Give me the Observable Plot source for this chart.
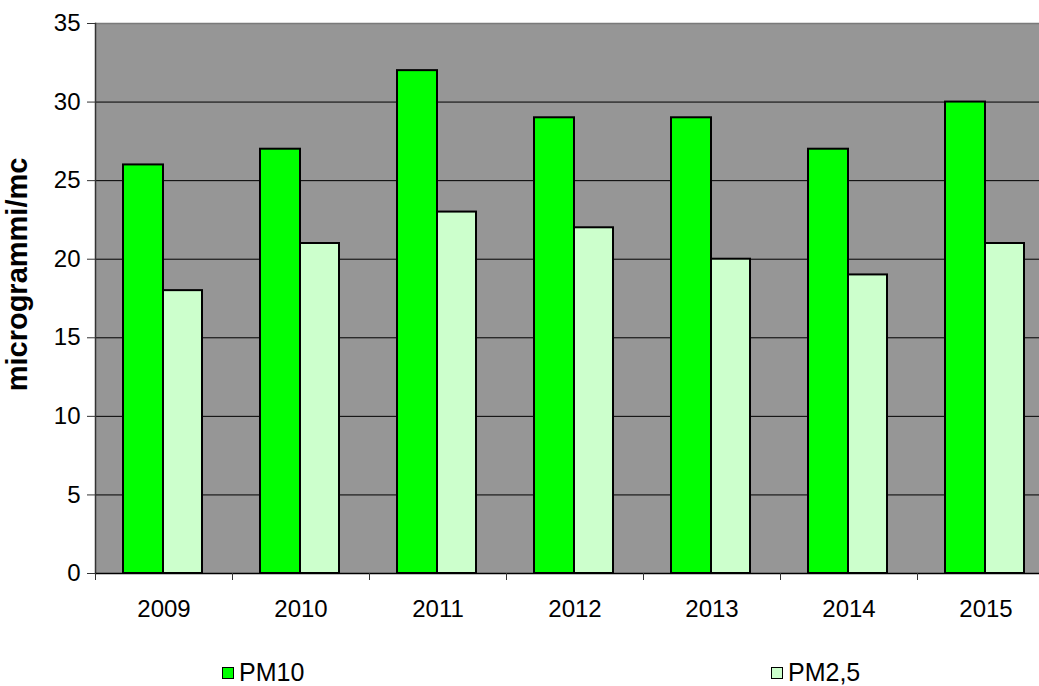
<!DOCTYPE html>
<html>
<head>
<meta charset="utf-8">
<script src="https://cdn.jsdelivr.net/npm/d3@7"></script>
<script src="https://cdn.jsdelivr.net/npm/@observablehq/plot@0.6"></script>
<style>
  html, body { margin: 0; padding: 0; background: #fff; overflow: hidden; }
  #chart { width: 1039px; height: 686px; position: relative; overflow: hidden; font-family: "Liberation Sans", Arial, sans-serif; }
  #chart svg { max-width: none !important; display: block; }
  .legend { position: absolute; top: 640px; left: 0; width: 1039px; height: 46px; }
  .item { position: absolute; top: 20px; display: flex; align-items: center; font-size: 25px; line-height: 1; color: #000; }
  .sw { width: 10px; height: 10px; border: 1px solid #000; margin-right: 5px; }
</style>
</head>
<body>
<div id="chart"></div>
<script>
const years = ["2009", "2010", "2011", "2012", "2013", "2014", "2015"];
const pm10 = [26, 27, 32, 29, 29, 27, 30];
const pm25 = [18, 21, 23, 22, 20, 19, 21];
const seriesNames = ["PM10", "PM2,5"];
const seriesColors = ["#00ff00", "#ccffcc"];
const yTicks = [0, 5, 10, 15, 20, 25, 30, 35];
const gridTicks = [5, 10, 15, 20, 25, 30];
const yLabel = "microgrammi/mc";

const rows10 = years.map((y, i) => ({year: y, series: seriesNames[0], value: pm10[i]}));
const rows25 = years.map((y, i) => ({year: y, series: seriesNames[1], value: pm25[i]}));

const band = 137;
const plot = Plot.plot({
  width: 95 + band * years.length,
  height: 640,
  marginLeft: 95,
  marginRight: 0,
  marginTop: 23,
  marginBottom: 67,
  style: {fontFamily: "'Liberation Sans', Arial, sans-serif", fontSize: "24px", color: "#000", background: "transparent", overflow: "visible", maxWidth: "none"},
  x: {domain: years, padding: 0, axis: null},
  y: {domain: [0, 35], axis: null},
  color: {domain: seriesNames, range: seriesColors},
  marks: [
    Plot.frame({fill: "#969696", stroke: null}),
    Plot.ruleY(gridTicks, {stroke: "#000", strokeWidth: 1}),
    Plot.ruleY([35], {stroke: "#7a7a7a", strokeWidth: 1.5}),
    Plot.barY(rows10, {x: "year", y: "value", fill: "series", stroke: "#000", strokeWidth: 2, insetLeft: 28, insetRight: 69}),
    Plot.barY(rows25, {x: "year", y: "value", fill: "series", stroke: "#000", strokeWidth: 2, insetLeft: 68, insetRight: 30}),
    Plot.frame({anchor: "left", stroke: "#333", strokeWidth: 1.5}),
    Plot.ruleY([0], {stroke: "#000", strokeWidth: 1.5}),
    Plot.axisY({ticks: yTicks, tickSize: 8, tickPadding: 7, label: null, stroke: "#333", fontSize: 24}),
    Plot.axisX({tickSize: 0, tickPadding: 26, label: null, fontSize: 24}),
    Plot.axisX({tickSize: 7, dx: -band / 2, tickFormat: () => "", label: null, stroke: "#333"}),
    Plot.text([yLabel], {frameAnchor: "left", textAnchor: "middle", rotate: -90, dx: -78, dy: -24, fontWeight: "bold", fontSize: 29})
  ]
});
const chart = document.getElementById("chart");
chart.appendChild(plot);

const legend = document.createElement("div");
legend.className = "legend";
const lefts = [222, 771];
seriesNames.forEach((name, i) => {
  const it = document.createElement("div");
  it.className = "item";
  it.style.left = lefts[i] + "px";
  const sw = document.createElement("div");
  sw.className = "sw";
  sw.style.background = seriesColors[i];
  const tx = document.createElement("span");
  tx.textContent = name;
  it.appendChild(sw);
  it.appendChild(tx);
  legend.appendChild(it);
});
chart.appendChild(legend);
</script>
</body>
</html>
